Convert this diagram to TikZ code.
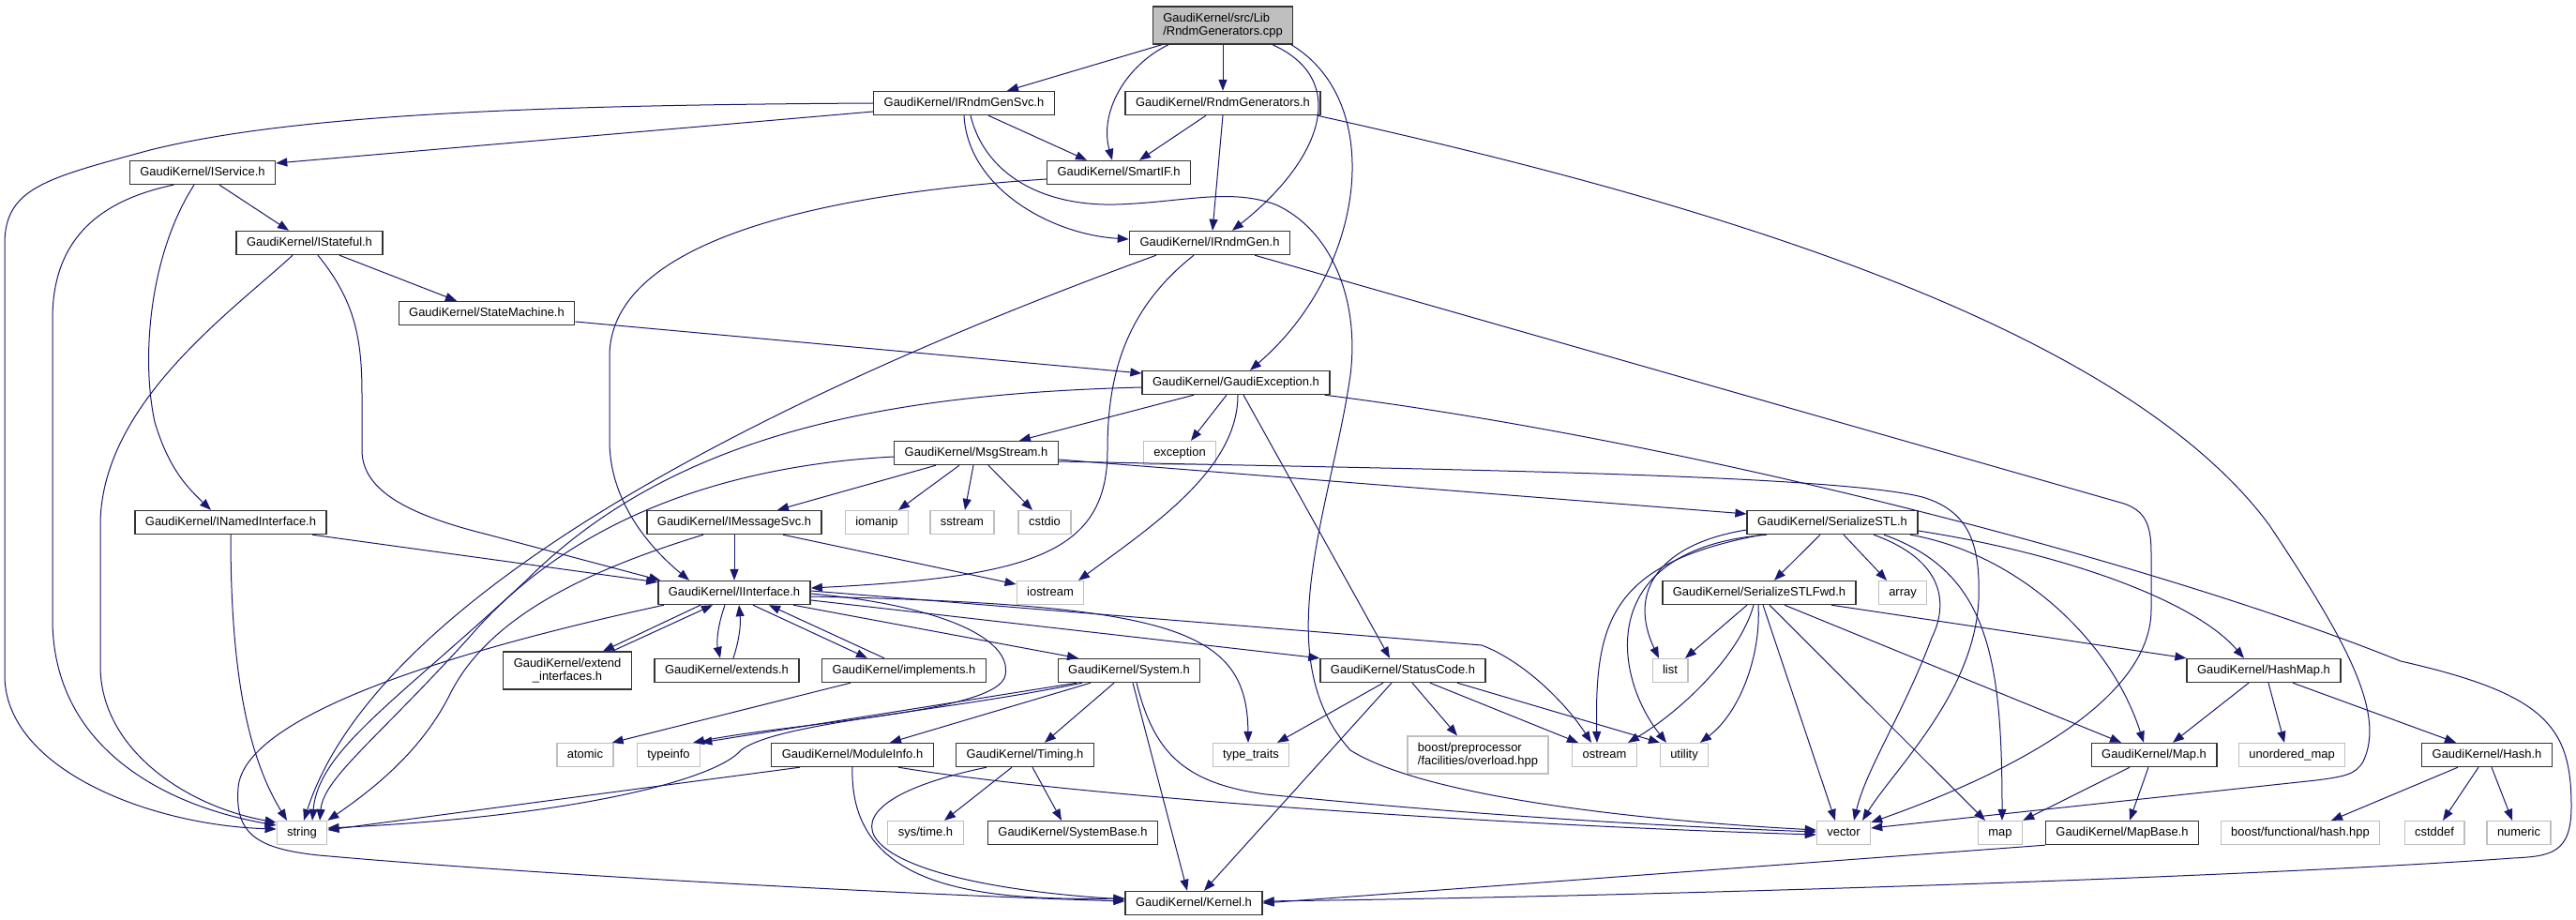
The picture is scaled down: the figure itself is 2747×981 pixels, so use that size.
\documentclass[tikz,border=0pt]{standalone}
\usepackage{fontspec}
\setmainfont{Liberation Sans}
\usetikzlibrary{arrows.meta}
\definecolor{edgeBlue}{RGB}{25,25,112}
\definecolor{sysGrey}{RGB}{191,191,191}
\definecolor{srcFill}{RGB}{191,191,191}
\begin{document}
\begin{tikzpicture}[x=1pt, y=-1pt, >={Triangle[length=12pt,width=9pt]},
    every node/.style={draw, font=\fontsize{12.95}{14}\selectfont, inner xsep=11pt, inner ysep=0pt, minimum height=25pt, text height=9.4pt, text depth=2.8pt},
    hdr/.style={draw=black!80, line width=1.4pt},
    sysinc/.style={draw=sysGrey, line width=1.2pt},
    twoline/.style={minimum height=40pt, text height=, text depth=},
    srcfile/.style={hdr, twoline, fill=srcFill, align=left},
    dep/.style={->, draw=edgeBlue, line width=1pt}]

    \fill[white] (0,0) rectangle (2747,981);
    \useasboundingbox (0,0) rectangle (2747,981);

    % Nodes
    \node (root) [srcfile] at (1304,27) {GaudiKernel/src/Lib\\/RndmGenerators.cpp};
    \node (rndmGenSvc) [hdr] at (1028,110) {GaudiKernel/IRndmGenSvc.h};
    \node (rndmGens) [hdr] at (1304,110) {GaudiKernel/RndmGenerators.h};
    \node (smartIF) [hdr] at (1193,184) {GaudiKernel/SmartIF.h};
    \node (iRndmGen) [hdr] at (1290,259) {GaudiKernel/IRndmGen.h};
    \node (gaudiExc) [hdr] at (1318,408) {GaudiKernel/GaudiException.h};
    \node (iService) [hdr] at (216,184) {GaudiKernel/IService.h};
    \node (iStateful) [hdr] at (330,259) {GaudiKernel/IStateful.h};
    \node (stateMachine) [hdr] at (519,334) {GaudiKernel/StateMachine.h};
    \node (msgStream) [hdr] at (1041,483) {GaudiKernel/MsgStream.h};
    \node (exceptionH) [sysinc] at (1258,483) {exception};
    \node (iNamed) [hdr] at (246,557) {GaudiKernel/INamedInterface.h};
    \node (iMsgSvc) [hdr] at (783,557) {GaudiKernel/IMessageSvc.h};
    \node (iomanipH) [sysinc] at (935,557) {iomanip};
    \node (sstreamH) [sysinc] at (1026,557) {sstream};
    \node (cstdioH) [sysinc] at (1114,557) {cstdio};
    \node (serSTL) [hdr] at (1954,557) {GaudiKernel/SerializeSTL.h};
    \node (iInterface) [hdr] at (783,632) {GaudiKernel/IInterface.h};
    \node (iostreamH) [sysinc] at (1120,632) {iostream};
    \node (serSTLFwd) [hdr] at (1876,632) {GaudiKernel/SerializeSTLFwd.h};
    \node (arrayH) [sysinc] at (2029,632) {array};
    \node (listH) [sysinc] at (1781,715) {list};
    \node (extendIf) [hdr, twoline, align=center] at (605,715) {GaudiKernel/extend\\\_interfaces.h};
    \node (extendsH) [hdr] at (775,715) {GaudiKernel/extends.h};
    \node (implementsH) [hdr] at (964,715) {GaudiKernel/implements.h};
    \node (systemH) [hdr] at (1204,715) {GaudiKernel/System.h};
    \node (statusCode) [hdr] at (1496,715) {GaudiKernel/StatusCode.h};
    \node (hashMapH) [hdr] at (2414,715) {GaudiKernel/HashMap.h};
    \node (atomicH) [sysinc] at (624,805) {atomic};
    \node (typeinfoH) [sysinc] at (713,805) {typeinfo};
    \node (moduleInfo) [hdr] at (909,805) {GaudiKernel/ModuleInfo.h};
    \node (timingH) [hdr] at (1093,805) {GaudiKernel/Timing.h};
    \node (typeTraits) [sysinc] at (1334,805) {type\_traits};
    \node (boostPP) [sysinc, twoline, align=left] at (1576,805) {boost/preprocessor\\/facilities/overload.hpp};
    \node (ostreamH) [sysinc] at (1711,805) {ostream};
    \node (utilityH) [sysinc] at (1796,805) {utility};
    \node (mapH) [hdr] at (2297,805) {GaudiKernel/Map.h};
    \node (unorderedMap) [sysinc] at (2444,805) {unordered\_map};
    \node (hashH) [hdr] at (2652,805) {GaudiKernel/Hash.h};
    \node (stringH) [sysinc] at (322,888) {string};
    \node (sysTime) [sysinc] at (987,888) {sys/time.h};
    \node (systemBase) [hdr] at (1144,888) {GaudiKernel/SystemBase.h};
    \node (vectorH) [sysinc] at (1966,888) {vector};
    \node (mapStd) [sysinc] at (2133,888) {map};
    \node (mapBase) [hdr] at (2263,888) {GaudiKernel/MapBase.h};
    \node (boostHash) [sysinc] at (2453,888) {boost/functional/hash.hpp};
    \node (cstddefH) [sysinc] at (2596,888) {cstddef};
    \node (numericH) [sysinc] at (2686,888) {numeric};
    \node (kernelH) [hdr] at (1273,963) {GaudiKernel/Kernel.h};

    % Arrows
    \draw[dep] ([xshift=-65pt]root.south) -- ([xshift=46pt]rndmGenSvc.north);
    \draw[dep] ([xshift=-58pt]root.south) .. controls (1200,70) and (1172,120) .. ([xshift=-7pt]smartIF.north);
    \draw[dep] (root.south) -- (rndmGens.north);
    \draw[dep] ([xshift=53pt]root.south) .. controls (1440,85) and (1410,170) .. ([xshift=24pt]iRndmGen.north);
    \draw[dep] ([xshift=73pt]root.south) .. controls (1480,110) and (1455,290) .. ([xshift=15pt]gaudiExc.north);

    \draw[dep] (rndmGenSvc.west) .. controls (600,112) and (320,120) .. (160,160) .. controls (50,190) and (5,200) .. (5,260) -- (5,720) .. controls (5,820) and (160,880) .. ([yshift=4pt]stringH.west);
    \draw[dep] ([yshift=-9pt]rndmGenSvc.west) -- ([yshift=10pt]iService.east);
    \draw[dep] ([xshift=26pt]rndmGenSvc.south) -- ([xshift=-34pt]smartIF.north);
    \draw[dep] (rndmGenSvc.south) .. controls (1032,200) and (1120,250) .. ([yshift=4pt]iRndmGen.west);
    \draw[dep] ([xshift=7pt]rndmGenSvc.south) .. controls (1050,185) and (1110,220) .. (1190,218) .. controls (1260,216) and (1310,200) .. (1360,218) .. controls (1420,245) and (1450,320) .. (1440,400) .. controls (1420,540) and (1350,700) .. (1440,800) .. controls (1520,850) and (1750,875) .. ([yshift=3pt]vectorH.west);

    \draw[dep] ([xshift=-18pt]rndmGens.south) -- ([xshift=22pt]smartIF.north);
    \draw[dep] (rndmGens.south) -- ([xshift=3pt]iRndmGen.north);
    \draw[dep] ([xshift=-4pt]rndmGens.south east) .. controls (1750,200) and (2250,330) .. (2420,560) .. controls (2500,680) and (2545,760) .. (2520,812) .. controls (2512,826) and (2500,828) .. (2470,832) -- ([yshift=5pt]vectorH.east);

    \draw[dep] ([yshift=-7pt]smartIF.west) .. controls (900,205) and (650,250) .. (650,380) -- (650,470) .. controls (650,540) and (700,590) .. ([xshift=-48pt]iInterface.north);

    \draw[dep] ([xshift=-57pt]iRndmGen.south) .. controls (800,430) and (400,640) .. ([xshift=2pt]stringH.north);
    \draw[dep] ([xshift=-17pt]iRndmGen.south) .. controls (1200,330) and (1181,400) .. (1181,480) .. controls (1181,590) and (1100,615) .. ([yshift=5pt]iInterface.east);
    \draw[dep] ([xshift=48pt]iRndmGen.south) -- (2265,537) .. controls (2288,545) and (2294,560) .. (2294,590) -- (2294,650) .. controls (2294,760) and (2100,840) .. ([yshift=-2pt]vectorH.north east);

    \draw[dep] ([xshift=-31pt]iService.south) .. controls (100,215) and (56,260) .. (56,340) -- (56,660) .. controls (56,800) and (180,860) .. ([yshift=8pt]stringH.west);
    \draw[dep] ([xshift=-9pt]iService.south) .. controls (160,270) and (150,380) .. (165,450) .. controls (180,500) and (200,520) .. ([xshift=-21pt]iNamed.north);
    \draw[dep] ([xshift=18pt]iService.south) -- ([xshift=-22pt]iStateful.north);

    \draw[dep] ([xshift=-18pt]iStateful.south) .. controls (250,330) and (107,430) .. (107,560) -- (107,710) .. controls (107,800) and (200,860) .. ([yshift=11pt]stringH.west);
    \draw[dep] ([xshift=9pt]iStateful.south) .. controls (378,320) and (386,360) .. (386,420) -- (386,480) .. controls (386,525) and (440,550) .. (520,570) -- ([xshift=3pt]iInterface.north west);
    \draw[dep] ([xshift=32pt]iStateful.south) -- ([xshift=-32pt]stateMachine.north);

    \draw[dep] ([yshift=-9pt]stateMachine.east) -- ([yshift=10pt]gaudiExc.west);

    \draw[dep] ([yshift=-5pt]gaudiExc.west) .. controls (950,420) and (720,460) .. (560,620) .. controls (420,750) and (340,800) .. ([xshift=11pt]stringH.north);
    \draw[dep] ([xshift=-45pt]gaudiExc.south) -- ([xshift=46pt]msgStream.north);
    \draw[dep] ([xshift=-10pt]gaudiExc.south) -- ([xshift=12pt]exceptionH.north);
    \draw[dep] ([xshift=2pt]gaudiExc.south) .. controls (1320,500) and (1230,560) .. ([xshift=30pt]iostreamH.north);
    \draw[dep] ([xshift=8pt]gaudiExc.south) -- ([xshift=-14pt]statusCode.north);
    \draw[dep] ([xshift=-6pt]gaudiExc.south east) .. controls (1800,470) and (2300,600) .. (2560,705) .. controls (2715,740) and (2742,775) .. (2742,860) .. controls (2742,910) and (2720,913) .. (2680,915) .. controls (2400,935) and (1800,955) .. ([yshift=2pt]kernelH.east);

    \draw[dep] ([yshift=-4pt]msgStream.west) .. controls (800,495) and (620,540) .. (500,680) .. controls (400,790) and (345,830) .. ([xshift=19pt]stringH.north);
    \draw[dep] ([xshift=-43pt]msgStream.south) -- ([xshift=46pt]iMsgSvc.north);
    \draw[dep] ([xshift=-18pt]msgStream.south) -- ([xshift=23pt]iomanipH.north);
    \draw[dep] ([xshift=-3pt]msgStream.south) -- ([xshift=3pt]sstreamH.north);
    \draw[dep] ([xshift=13pt]msgStream.south) -- ([xshift=-13pt]cstdioH.north);
    \draw[dep] ([yshift=-7pt]msgStream.east) -- ([yshift=9pt]serSTL.west);
    \draw[dep] ([yshift=-9pt]msgStream.east) .. controls (1500,500) and (1950,505) .. (2050,530) .. controls (2100,545) and (2112,580) .. (2110,640) .. controls (2105,740) and (2020,820) .. ([xshift=20pt]vectorH.north);

    \draw[dep] ([xshift=87pt]iNamed.south) -- ([yshift=-2pt]iInterface.north west);
    \draw[dep] (iNamed.south) .. controls (246,700) and (260,800) .. ([xshift=-16pt]stringH.north);

    \draw[dep] (iMsgSvc.south) -- (iInterface.north);
    \draw[dep] ([xshift=-33pt]iMsgSvc.south) .. controls (620,610) and (520,660) .. (480,740) .. controls (450,800) and (400,840) .. (stringH.north east);
    \draw[dep] ([xshift=52pt]iMsgSvc.south) -- ([yshift=9pt]iostreamH.west);

    \draw[dep] ([xshift=-75pt]iInterface.south) .. controls (500,690) and (260,760) .. (254,840) .. controls (250,890) and (275,905) .. (340,912) .. controls (600,935) and (1000,955) .. ([yshift=2pt]kernelH.west);
    \draw[dep] ([xshift=-36pt]iInterface.south) -- ([xshift=38pt]extendIf.north);
    \draw[dep] ([xshift=48pt]extendIf.north) -- ([xshift=-23pt]iInterface.south);
    \draw[dep] ([xshift=-10pt]iInterface.south) .. controls (765,668) and (764,685) .. ([xshift=-7pt]extendsH.north);
    \draw[dep] ([xshift=7pt]extendsH.north) .. controls (789,680) and (790,665) .. ([xshift=5pt]iInterface.south);
    \draw[dep] ([xshift=20pt]iInterface.south) -- ([xshift=-39pt]implementsH.north);
    \draw[dep] ([xshift=-21pt]implementsH.north) -- ([xshift=37pt]iInterface.south);
    \draw[dep] ([xshift=63pt]iInterface.south) -- ([xshift=-54pt]systemH.north);
    \draw[dep] ([yshift=-8pt]iInterface.east) -- (statusCode.north west);
    \draw[dep] ([yshift=2pt]iInterface.east) -- (1580,688) .. controls (1625,705) and (1670,750) .. ([xshift=-14pt]ostreamH.north);
    \draw[dep] ([yshift=-4pt]iInterface.east) .. controls (1250,645) and (1330,670) .. ([xshift=-3pt]typeTraits.north);
    \draw[dep] ([yshift=-1pt]iInterface.east) .. controls (1000,645) and (1080,680) .. (1072,720) .. controls (1065,760) and (850,770) .. ([xshift=26pt]typeinfoH.north);

    \draw[dep] ([xshift=-57pt]implementsH.south) -- ([xshift=-2pt]atomicH.north east);

    \draw[dep] ([xshift=-56pt]systemH.south) -- (typeinfoH.north east);
    \draw[dep] ([xshift=-50pt]systemH.south) .. controls (1000,760) and (830,770) .. (790,800) .. controls (765,830) and (620,870) .. ([yshift=5pt]stringH.east);
    \draw[dep] ([xshift=-41pt]systemH.south) -- ([xshift=40pt]moduleInfo.north);
    \draw[dep] ([xshift=-16pt]systemH.south) -- ([xshift=21pt]timingH.north);
    \draw[dep] ([xshift=4pt]systemH.south) -- ([xshift=-7pt]kernelH.north);
    \draw[dep] ([xshift=8pt]systemH.south) .. controls (1230,800) and (1260,835) .. (1350,847) .. controls (1600,872) and (1800,882) .. ([yshift=1pt]vectorH.west);

    \draw[dep] ([xshift=-56pt]moduleInfo.south) -- ([yshift=3pt]stringH.east);
    \draw[dep] (moduleInfo.south) .. controls (905,950) and (1050,960) .. ([yshift=5pt]kernelH.west);
    \draw[dep] ([xshift=49pt]moduleInfo.south) .. controls (1150,850) and (1600,880) .. ([yshift=-2pt]vectorH.west);

    \draw[dep] ([xshift=-41pt]timingH.south) .. controls (850,860) and (900,940) .. ([yshift=4pt]kernelH.west);
    \draw[dep] ([xshift=-14pt]timingH.south) -- ([xshift=20pt]sysTime.north);
    \draw[dep] ([xshift=8pt]timingH.south) -- ([xshift=-12pt]systemBase.north);

    \draw[dep] ([xshift=-21pt]statusCode.south) -- ([xshift=28pt]typeTraits.north);
    \draw[dep] ([xshift=-12pt]statusCode.south) -- ([xshift=11pt]kernelH.north);
    \draw[dep] ([xshift=10pt]statusCode.south) -- ([xshift=-22pt]boostPP.north);
    \draw[dep] ([xshift=29pt]statusCode.south) -- ([xshift=-28pt]ostreamH.north);
    \draw[dep] ([xshift=58pt]statusCode.south) -- ([xshift=-26pt]utilityH.north);

    \draw[dep] ([yshift=-8pt]serSTL.west) .. controls (1770,580) and (1735,630) .. ([xshift=-12pt]listH.north);
    \draw[dep] ([xshift=-75pt]serSTL.south) .. controls (1720,600) and (1700,660) .. ([xshift=-8pt]ostreamH.north);
    \draw[dep] ([xshift=-70pt]serSTL.south) .. controls (1700,585) and (1720,720) .. ([xshift=-19pt]utilityH.north);
    \draw[dep] ([xshift=-13pt]serSTL.south) -- ([xshift=16pt]serSTLFwd.north);
    \draw[dep] ([xshift=12pt]serSTL.south) -- ([xshift=-17pt]arrayH.north);
    \draw[dep] ([xshift=44pt]serSTL.south) .. controls (2080,600) and (2075,650) .. (2060,680) .. controls (2030,760) and (1990,820) .. ([xshift=11pt]vectorH.north);
    \draw[dep] ([xshift=55pt]serSTL.south) .. controls (2120,610) and (2135,700) .. ([xshift=2pt]mapStd.north);
    \draw[dep] ([xshift=83pt]serSTL.south) .. controls (2150,590) and (2250,680) .. ([xshift=-11pt]mapH.north);
    \draw[dep] ([yshift=-9pt]serSTL.east) .. controls (2200,590) and (2340,640) .. ([xshift=-21pt]hashMapH.north);

    \draw[dep] ([xshift=-13pt]serSTLFwd.south) -- ([xshift=16pt]listH.north);
    \draw[dep] ([xshift=-6pt]serSTLFwd.south) .. controls (1855,700) and (1790,760) .. ([xshift=25pt]ostreamH.north);
    \draw[dep] ([xshift=-1pt]serSTLFwd.south) .. controls (1878,700) and (1855,760) .. ([xshift=17pt]utilityH.north);
    \draw[dep] ([xshift=4pt]serSTLFwd.south) -- ([xshift=-9pt]vectorH.north);
    \draw[dep] ([xshift=11pt]serSTLFwd.south) -- ([xshift=-16pt]mapStd.north);
    \draw[dep] ([xshift=27pt]serSTLFwd.south) -- ([xshift=-35pt]mapH.north);
    \draw[dep] ([xshift=77pt]serSTLFwd.south) -- (hashMapH.north west);

    \draw[dep] ([xshift=-16pt]hashMapH.south) -- ([xshift=20pt]mapH.north);
    \draw[dep] ([xshift=5pt]hashMapH.south) -- ([xshift=-8pt]unorderedMap.north);
    \draw[dep] ([xshift=31pt]hashMapH.south) -- ([xshift=-33pt]hashH.north);

    \draw[dep] ([xshift=-26pt]mapH.south) -- (mapStd.north east);
    \draw[dep] ([xshift=-6pt]mapH.south) -- ([xshift=8pt]mapBase.north);
    \draw[dep] (mapBase.south west) -- (kernelH.east);

    \draw[dep] ([xshift=-31pt]hashH.south) -- ([xshift=33pt]boostHash.north);
    \draw[dep] ([xshift=-9pt]hashH.south) -- ([xshift=9pt]cstddefH.north);
    \draw[dep] ([xshift=5pt]hashH.south) -- ([xshift=-7pt]numericH.north);
\end{tikzpicture}
\end{document}
